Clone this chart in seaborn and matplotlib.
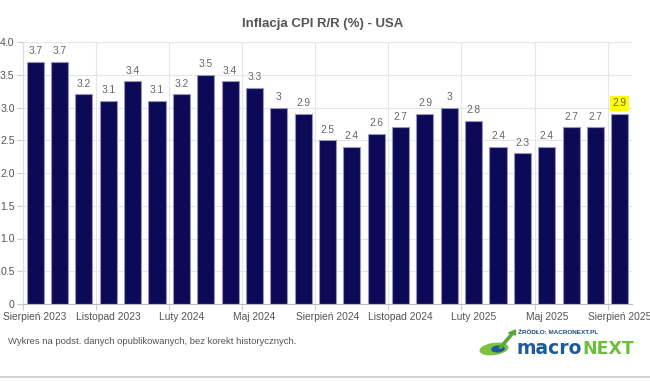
import matplotlib
matplotlib.use("Agg")
import matplotlib.pyplot as plt
import matplotlib.patches as mpatches
import pandas as pd
import seaborn as sns

months = [
    "Sierpień 2023", "Wrzesień 2023", "Październik 2023", "Listopad 2023",
    "Grudzień 2023", "Styczeń 2024", "Luty 2024", "Marzec 2024",
    "Kwiecień 2024", "Maj 2024", "Czerwiec 2024", "Lipiec 2024",
    "Sierpień 2024", "Wrzesień 2024", "Październik 2024", "Listopad 2024",
    "Grudzień 2024", "Styczeń 2025", "Luty 2025", "Marzec 2025",
    "Kwiecień 2025", "Maj 2025", "Czerwiec 2025", "Lipiec 2025",
    "Sierpień 2025",
]
cpi = [3.7, 3.7, 3.2, 3.1, 3.4, 3.1, 3.2, 3.5, 3.4, 3.3, 3.0, 2.9, 2.5,
       2.4, 2.6, 2.7, 2.9, 3.0, 2.8, 2.4, 2.3, 2.4, 2.7, 2.7, 2.9]
shown_ticks = [0, 3, 6, 9, 12, 15, 18, 21, 24]
y_ticks = [0, 0.5, 1.0, 1.5, 2.0, 2.5, 3.0, 3.5, 4.0]

df = pd.DataFrame({"miesiac": months, "cpi": cpi})

sns.set_theme(style="white")
plt.rcParams["font.family"] = ["Liberation Sans", "DejaVu Sans"]

W, H = 650, 381
fig = plt.figure(figsize=(W / 100, H / 100), dpi=100)
ax = fig.add_axes([23 / W, (H - 304) / H, (632 - 23) / W, (304 - 42) / H])

sns.barplot(data=df, x="miesiac", y="cpi", order=months, color="#0c0a56",
            width=0.7, saturation=1, edgecolor="#9897bb", linewidth=0.8, ax=ax)

ax.set_xlim(-0.5, len(months) - 0.5)
ax.set_ylim(0, 4.0)
ax.set_xlabel("")
ax.set_ylabel("")

# category labels (every third month), grid lines between slots
ax.set_xticks(shown_ticks)
ax.set_xticklabels([months[i] for i in shown_ticks])
ax.set_xticks([i - 0.5 for i in shown_ticks], minor=True)
ax.tick_params(axis="x", which="major", length=0, pad=6, labelsize=7.4, labelcolor="#555555")
ax.tick_params(axis="x", which="minor", length=4, width=0.8, color="#cccccc", direction="out", bottom=True)
ax.grid(axis="x", which="minor", color="#e6e6e6", linewidth=0.8)
ax.grid(axis="y", which="major", color="#e6e6e6", linewidth=0.8)
ax.set_axisbelow(True)

ax.set_yticks(y_ticks)
ax.set_yticklabels(["0" if v == 0 else f"{v:.1f}" for v in y_ticks])
ax.tick_params(axis="y", length=4, width=0.8, color="#cccccc", pad=2, labelsize=7.6, labelcolor="#555555", left=True)

for s in ["top", "right"]:
    ax.spines[s].set_visible(False)
ax.spines["left"].set_color("#dddddd")
ax.spines["bottom"].set_color("#bbbbbb")
ax.spines["left"].set_linewidth(0.8)
ax.spines["bottom"].set_linewidth(0.8)

# value labels
for i, v in enumerate(cpi):
    txt = f"{v:g}"
    kw = {}
    if i == len(cpi) - 1:
        kw["bbox"] = dict(boxstyle="square,pad=0.25", facecolor="#ffff00", edgecolor="none")
    ax.annotate(txt, (i, v), xytext=(0, 4), textcoords="offset points",
                ha="center", va="bottom", fontsize=7.3, color="#666666", **kw)

fig.text(323 / W, 1 - 24 / H, "Inflacja CPI R/R (%) - USA", ha="center", va="center",
         fontsize=9.5, fontweight="bold", color="#555555")
fig.text(8 / W, 1 - 341 / H, "Wykres na podst. danych opublikowanych, bez korekt historycznych.",
         ha="left", va="center", fontsize=6.8, color="#555555")

# logo approximation
fig.text(518 / W, 1 - 332 / H, "ŹRÓDŁO: MACRONEXT.PL", ha="left", va="center",
         fontsize=4.6, fontweight="bold", color="#1b4f80")
fig.text(517 / W, 1 - 349 / H, "macro", ha="left", va="center", fontsize=13.5,
         fontweight="bold", color="#1c5a9c", family=["DejaVu Sans"])
fig.text(582 / W, 1 - 349 / H, "NEXT", ha="left", va="center", fontsize=12.5,
         fontweight="bold", color="#6cbf3c", family=["DejaVu Sans Condensed", "DejaVu Sans"])
fig.patches.append(mpatches.Ellipse((494 / W, 1 - 349 / H), 30 / W, 12 / H, angle=20,
                                    transform=fig.transFigure, facecolor="#7ec242", edgecolor="none"))
fig.patches.append(mpatches.Ellipse((498 / W, 1 - 349 / H), 14 / W, 7 / H, angle=20,
                                    transform=fig.transFigure, facecolor="#1c5a9c", edgecolor="none"))
fig.patches.append(mpatches.FancyArrow(500 / W, 1 - 348 / H, 12 / W, 14 / H, width=0.004,
                                       head_width=0.012, head_length=0.012,
                                       transform=fig.transFigure, color="#5aa83a"))

fig.add_artist(plt.Line2D([0, 1], [1 - 377 / H, 1 - 377 / H], transform=fig.transFigure,
                          color="#cccccc", linewidth=1.2))

fig.savefig("out.png", dpi=100, facecolor="white")
